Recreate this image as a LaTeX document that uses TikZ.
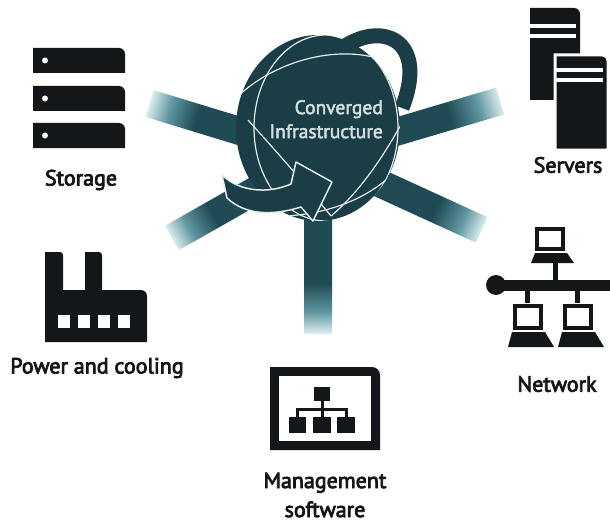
\documentclass[tikz,border=0pt]{standalone}
\usepackage{fontspec}
\setmainfont{PT Sans}
\newfontfamily\labelfont{PT Sans}[FakeBold=3.5]
\newfontfamily\globefont{PT Sans}[FakeBold=2.5]
\usetikzlibrary{shapes.geometric}

\definecolor{ink}{HTML}{131719}
\definecolor{globefill}{HTML}{1B3D45}
\definecolor{raydark}{HTML}{1F4B54}
\definecolor{raymid}{HTML}{5F969F}
\definecolor{raylight}{HTML}{D9ECEE}
\definecolor{gridline}{HTML}{E3EDEE}
\definecolor{globetext}{HTML}{D2DEE0}

% dark near the hub, pale at the far end
\pgfdeclarehorizontalshading{rayfade}{100bp}{color(0bp)=(raydark); color(61bp)=(raydark); color(69bp)=(raymid); color(75bp)=(raylight); color(100bp)=(raylight)}

\begin{document}
\begin{tikzpicture}[
    x=1pt, y=-1pt,
    lbl/.style={font=\labelfont\fontsize{22}{29}\selectfont, text=ink, inner sep=0pt, align=center},
    globe/.style={ellipse, fill=globefill, minimum width=164pt, minimum height=186pt, inner sep=0pt},
    grid/.style={draw=gridline, line width=1.2pt},
    band/.style={draw=globefill, line width=15pt},
    arrowband/.style={fill=globefill, draw=gridline, line width=1.5pt, line join=round}
  ]
  \fill[white] (0,0) rectangle (610,524);
  \useasboundingbox (0,0) rectangle (610,524);
  \coordinate (hub) at (318,155);

  % spokes
  \foreach \ang/\len in {163/176, 16.5/190, 209.6/168, 335.4/180, 270/178}
    \shade[shading=rayfade, transform canvas={shift={(hub)}, rotate=\ang}]
      (0,-14) rectangle (\len,14);

  % back half of the orbit
  \draw[band] (345,46) .. controls (385,21) and (428,42) .. (402,108);

  % globe
  \node[globe] (globe) at (318,128) {};
  \begin{scope}
    \clip (globe.center) ellipse [x radius=82, y radius=93];
    \draw[grid] (326,128) ellipse [x radius=72, y radius=93];
    \draw[grid] (236,98) .. controls (280,55) and (360,38) .. (406,72);
    \draw[grid] (248,120) .. controls (275,150) and (300,178) .. (331,216);
    \draw[grid] (410,108) .. controls (388,150) and (362,190) .. (331,216);
    \draw[grid] (285,216) .. controls (330,214) and (380,196) .. (406,158);
  \end{scope}
  \node[font=\globefont\fontsize{19.5}{24}\selectfont, text=globetext, align=right,
        anchor=north east, inner sep=0pt] (ci) at (383,100) {Converged\\Infrastructure};

  % front half of the orbit, ending in the arrow
  \draw[arrowband] (222,175) -- (227,198) .. controls (245,215) and (272,216) .. (301,207)
    -- (313,221) -- (332,182) -- (296,162) -- (291,184)
    .. controls (268,194) and (240,192) .. (222,175) -- cycle;

  % storage
  \foreach \y in {48,86,123} {
    \fill[ink] (33,\y+25) -- (33,\y) -- (119,\y) arc[start angle=-90, end angle=0, radius=6] -- (125,\y+25) -- cycle;
    \fill[white] (45,\y+12.5) circle (3);
  }
  \node[lbl] (storage) at (81,180) {Storage};

  % servers
  \fill[ink] (530,100) -- (530,8) -- (574,8) arc[start angle=-90, end angle=0, radius=6] -- (580,100) -- cycle;
  \fill[white] (530,24) rectangle (576,28);
  \fill[white] (530,34) rectangle (576,38);
  \filldraw[fill=ink, draw=white, line width=3pt] (555,150) -- (555,55) -- (602,55)
    arc[start angle=-90, end angle=0, radius=6] -- (608,150) -- cycle;
  \fill[white] (555,68) rectangle (603,72);
  \fill[white] (555,78) rectangle (603,82);
  \node[lbl] (servers) at (568,165) {Servers};

  % power and cooling
  \fill[ink] (45,342) -- (45,252) -- (60,252) arc[start angle=-90, end angle=0, radius=3]
    -- (63,290) -- (85,290) -- (85,252) -- (99,252) arc[start angle=-90, end angle=0, radius=3]
    -- (102,290) -- (141,290) arc[start angle=-90, end angle=0, radius=6] -- (147,342) -- cycle;
  \foreach \x in {58,78,98,118}
    \fill[white] (\x,315) rectangle ++(12,13);
  \node[lbl] (power) at (97,368) {Power and cooling};

  % network
  \draw[ink, line width=4.5pt] (537,229) rectangle (563,249);
  \fill[ink] (535,253) -- (567,253) -- (574,263) -- (531,263) -- cycle;
  \fill[ink] (553,263) rectangle (558,281);
  \fill[ink] (493,280) rectangle (610,291);
  \fill[ink] (496,285) circle (10);
  \fill[ink] (525,291) rectangle (530,303);
  \fill[ink] (575,291) rectangle (580,303);
  \draw[ink, line width=4.5pt] (515,306) rectangle (541,328);
  \draw[ink, line width=4.5pt] (565,306) rectangle (591,328);
  \fill[ink] (512,332) -- (545,332) -- (554,347) -- (508,347) -- cycle;
  \fill[ink] (562,332) -- (595,332) -- (604,347) -- (558,347) -- cycle;
  \node[lbl] (network) at (557,384) {Network};

  % management software
  \fill[ink] (270,450) -- (270,367) -- (372,367) arc[start angle=-90, end angle=0, radius=8] -- (380,450) -- cycle;
  \fill[white] (279,376) rectangle (371,441);
  \fill[ink] (314,387) rectangle (330,401);
  \draw[ink, line width=3pt] (322,401) -- (322,409) (297,409) -- (346,409)
    (297,408) -- (297,418) (322,408) -- (322,418) (346,408) -- (346,418);
  \fill[ink] (289,417) rectangle (306,433);
  \fill[ink] (313,417) rectangle (331,433);
  \fill[ink] (337,417) rectangle (355,433);
  \node[lbl] (mgmt) at (325,495) {Management\\software};
\end{tikzpicture}
\end{document}
